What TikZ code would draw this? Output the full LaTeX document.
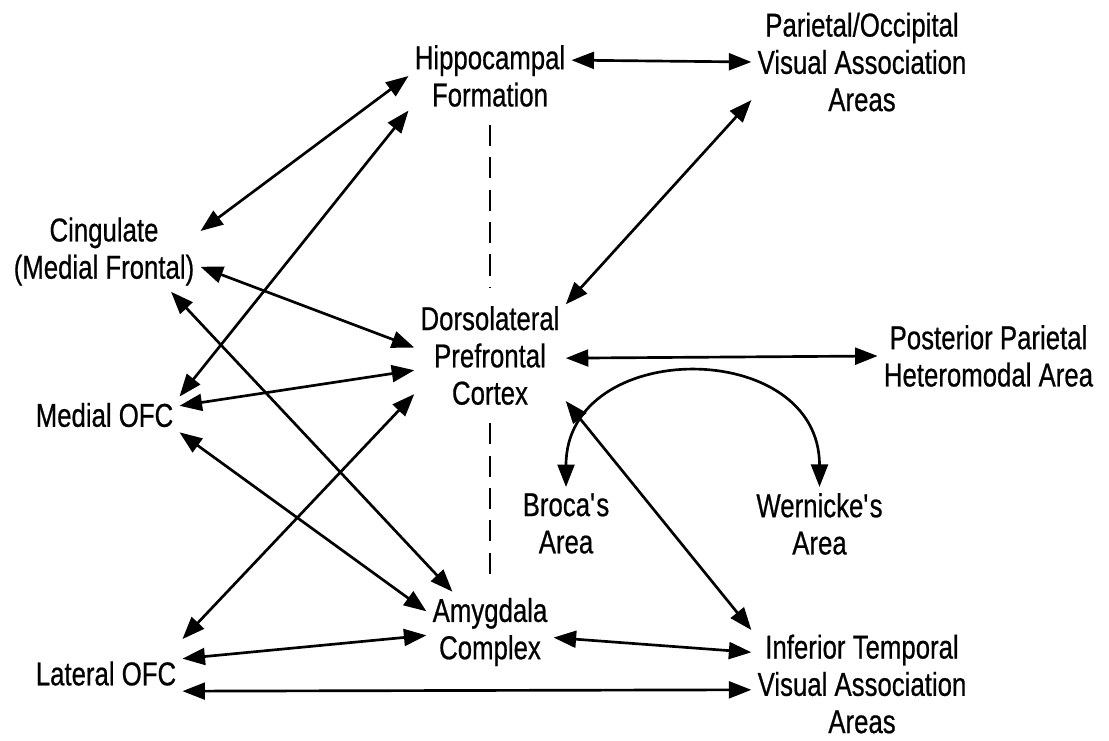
\documentclass[tikz,border=0pt]{standalone}
\usepackage{fontspec}
\setmainfont{Liberation Sans}[FakeStretch=0.78,FakeBold=0.6]
\usetikzlibrary{arrows.meta}
\tikzset{
  area/.style={align=center,inner sep=0.15cm,font=\fontsize{23.5}{26.5}\selectfont},
  lnk/.style={line width=1.9pt,>={Triangle[length=16pt,width=12pt]},<->},
  split/.style={line width=1pt,dash pattern=on 15pt off 8pt,shorten <=0.3cm,shorten >=0.3cm}
}

\begin{document}
\begin{tikzpicture}[x=0.025cm,y=-0.025cm]
\useasboundingbox (0,0) rectangle (1109,741);
\node[area] (hippo) at (490,76) {Hippocampal\\Formation};
\node[area] (pariet) at (862,62) {Parietal/Occipital\\Visual Association\\Areas};
\node[area] (cing) at (104,251.5) {Cingulate\\(Medial Frontal)};
\node[area] (dlpfc) at (490,355.5) {Dorsolateral\\Prefrontal\\Cortex};
\node[area] (post) at (988.5,356) {Posterior Parietal\\Heteromodal Area};
\node[area] (mofc) at (104.5,415) {Medial OFC};
\node[area] (broca) at (566,523.5) {Broca\textquotesingle s\\Area};
\node[area] (wern) at (819.5,524) {Wernicke\textquotesingle s\\Area};
\node[area] (amyg) at (490,632) {Amygdala\\Complex};
\node[area,inner ysep=0.55cm] (lofc) at (106,673.5) {Lateral OFC};
\node[area] (itemp) at (862,684) {Inferior Temporal\\Visual Association\\Areas};

\draw[split] (hippo.south) -- (dlpfc.north);
\draw[split] (dlpfc.south) -- (amyg.north);

\draw[lnk] (hippo.11) -- (pariet.west);
\draw[lnk] (hippo.west) -- (cing.12);
\draw[lnk] (hippo.203) -- (mofc.north east);
\draw[lnk] (pariet.199) -- (dlpfc.34);
\draw[lnk] (cing.351) -- (dlpfc.174);
\draw[lnk] (cing.329) -- (amyg.133);
\draw[lnk] (mofc.7) -- (dlpfc.191);
\draw[lnk] (mofc.347) -- (amyg.162);
\draw[lnk] (lofc.north east) -- (dlpfc.207);
\draw[lnk] (lofc.11) -- (amyg.183);
\draw[lnk] (lofc.347) -- (itemp.183);
\draw[lnk] (dlpfc.358) -- (post.west);
\draw[lnk] (dlpfc.329) -- (itemp.154);
\draw[lnk] (amyg.355) -- (itemp.164);
\draw[lnk] (broca.north) .. controls +(0,-150) and +(0,-150) .. (wern.north);
\end{tikzpicture}
\end{document}
